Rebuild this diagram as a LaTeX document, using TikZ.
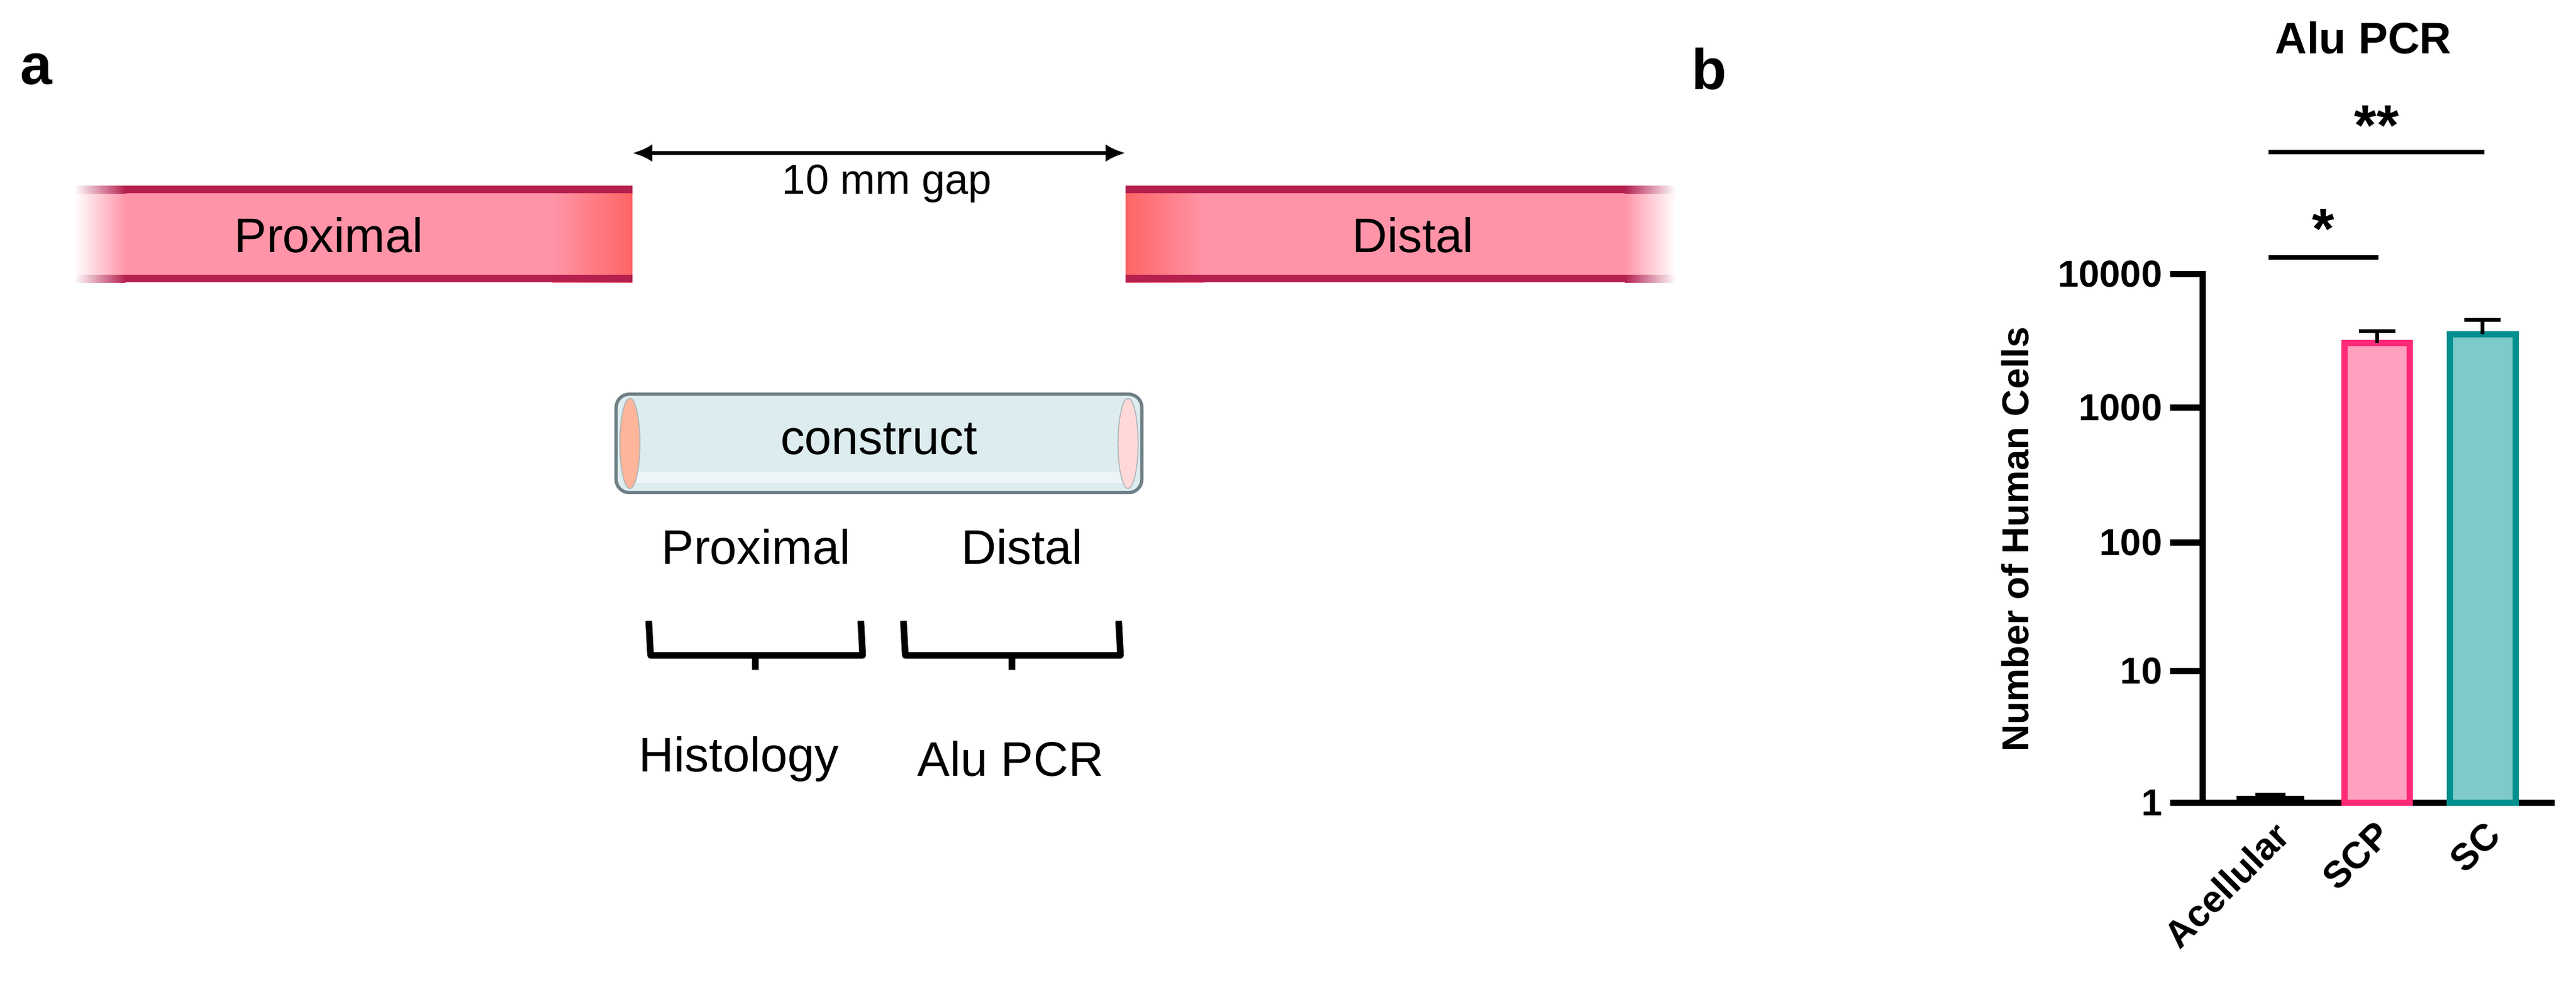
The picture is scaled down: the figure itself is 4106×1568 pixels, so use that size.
\documentclass[tikz,border=0pt]{standalone}
\usepackage{fontspec}
\setmainfont{Liberation Sans}
\usetikzlibrary{arrows.meta}
\definecolor{nervePink}{HTML}{FF94A8}
\definecolor{nerveRed}{HTML}{FF6464}
\definecolor{nerveEdge}{HTML}{B5204F}
\definecolor{tubeFill}{HTML}{DCECEF}
\definecolor{tubeEdge}{HTML}{6E7F85}
\definecolor{scpFill}{HTML}{FFA0BF}
\definecolor{scpEdge}{HTML}{FF2A77}
\definecolor{scFill}{HTML}{7ECACA}
\definecolor{scEdge}{HTML}{009090}

\begin{document}
\begin{tikzpicture}[x=0.01cm, y=-0.01cm,
panel/.style={font=\fontsize{26}{28}\selectfont\bfseries},
label/.style={font=\fontsize{22}{25}\selectfont, inner sep=0pt},
small/.style={font=\fontsize{19}{22}\selectfont, inner sep=0pt},
%
axis/.style={line width=3pt, line cap=rect},
tick/.style={font=\fontsize{17}{20}\selectfont\bfseries, anchor=east, inner sep=0pt},
bar/.style={line width=3pt},
brace/.style={line width=3pt, line join=round}]

\useasboundingbox (0,0) rectangle (4106,1568);

%%%%%%%%%%%%%%%%%%%%%%%%%%%%%% panel a
\node [panel] (la) at (58,110) {a};

% proximal stump
\shade [left color=white, right color=nervePink] (118,296) rectangle (200,450);
\fill [nervePink] (200,296) rectangle (880,450);
\shade [left color=nervePink, right color=nerveRed] (880,296) rectangle (1008,450);
\shade [left color=white, right color=nerveEdge] (118,296) rectangle (200,308);
\shade [left color=white, right color=nerveEdge] (118,438) rectangle (200,450);
\fill [nerveEdge] (200,296) rectangle (1008,308) (200,438) rectangle (1008,450);
\node [label] (proxNerve) at (524,375) {Proximal};

% distal stump
\shade [left color=nerveRed, right color=nervePink] (1794,296) rectangle (1920,450);
\fill [nervePink] (1920,296) rectangle (2590,450);
\shade [left color=nervePink, right color=white] (2590,296) rectangle (2671,450);
\shade [left color=nerveEdge, right color=white] (2590,296) rectangle (2671,308);
\shade [left color=nerveEdge, right color=white] (2590,438) rectangle (2671,450);
\fill [nerveEdge] (1794,296) rectangle (2590,308) (1794,438) rectangle (2590,450);
\node [label] (distNerve) at (2252,375) {Distal};

% gap
\coordinate (gapL) at (1008,244);
\coordinate (gapR) at (1794,244);
\draw [{Latex[length=9pt,width=8pt]}-{Latex[length=9pt,width=8pt]}, line width=1.8pt] (gapL) -- (gapR);
\node [small] (gap) at (1414,293) {10 mm gap};

% construct
\node [draw=tubeEdge, line width=1.5pt, fill=tubeFill, rounded corners=6pt,
  minimum width=838*0.01cm, minimum height=157*0.01cm] (tube) at (1401,707) {};
\fill [white, opacity=.5] (1010,752) rectangle (1790,770);
\draw [tubeEdge!60, fill=red!45!orange!40] (1004,707) ellipse [x radius=16, y radius=72];
\draw [tubeEdge!60, fill=red!15] (1798,707) ellipse [x radius=16, y radius=72];
\node [label] (construct) at (1401,700) {construct};

\node [label] (tProx) at (1205,872) {Proximal};
\node [label] (tDist) at (1629,872) {Distal};

\draw [brace] (1034,990) -- (1037,1045) -- (1375,1045) -- (1372,990)
  (1204,1045) -- (1204,1068);
\draw [brace] (1440,990) -- (1443,1045) -- (1786,1045) -- (1783,990)
  (1613,1045) -- (1613,1068);

\node [label] (histo) at (1178,1210) {Histology};
\node [label] (alu) at (1611,1210) {Alu PCR};

%%%%%%%%%%%%%%%%%%%%%%%%%%%%%% panel b
\node [panel] (lb) at (2724,110) {b};
\node [font=\fontsize{20}{22}\selectfont\bfseries] (title) at (3767,60) {Alu PCR};

\draw [axis] (3511,437) -- (3511,1280) -- (4067,1280);
\foreach \v/\y in {1/1280, 10/1070, 100/865, 1000/650, 10000/437} {
  \draw [axis] (3464,\y) -- (3511,\y);
  \node [tick] (t\v) at (3447,\y) {\v};
}
\node [rotate=90, font=\fontsize{17}{20}\selectfont\bfseries] (ylab) at (3212,860) {Number of Human Cells};

% bars
\draw [bar] (3565,1274) -- (3673,1274);
\draw [line width=1.5pt] (3619,1274) -- (3619,1267) (3595,1267) -- (3643,1267);
\draw [bar, draw=scpEdge, fill=scpFill] (3737,1280) rectangle (3841,547);
\draw [line width=1.8pt] (3789,547) -- (3789,528) (3760,528) -- (3818,528);
\draw [bar, draw=scEdge, fill=scFill] (3905,1280) rectangle (4010,533);
\draw [line width=1.8pt] (3957,533) -- (3957,510) (3928,510) -- (3986,510);

\foreach \n/\x in {Acellular/3622, SCP/3784, SC/3959}
  \node [rotate=45, anchor=north east, inner sep=0pt,
    font=\fontsize{17}{20}\selectfont\bfseries] (x\n) at (\x,1305) {\n};

% significance
\draw [line width=2pt] (3616,410) -- (3791,410) (3616,242) -- (3960,242);
\node [font=\fontsize{26}{28}\selectfont\bfseries] (sig1) at (3703,365) {*};
\node [font=\fontsize{26}{28}\selectfont\bfseries] (sig2) at (3788,200) {**};

\end{tikzpicture}
\end{document}
